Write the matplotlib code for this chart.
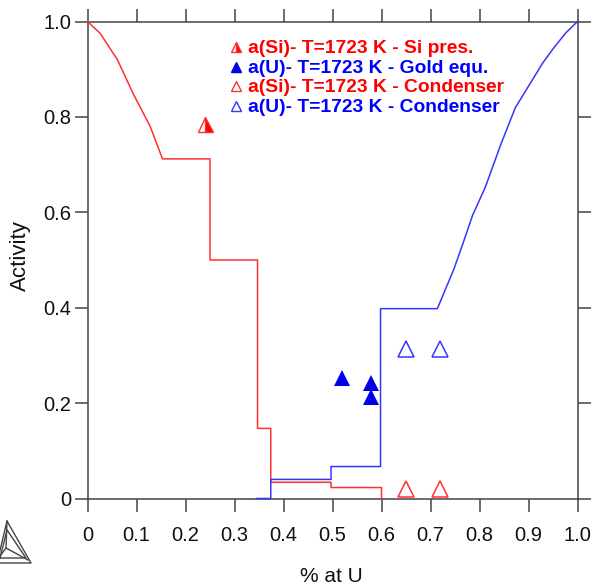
import matplotlib
matplotlib.use('Agg')
import matplotlib.pyplot as plt
from matplotlib.lines import Line2D

# stepped activity curves
si_x = [0, 0.026, 0.061, 0.094, 0.128, 0.153, 0.25, 0.25, 0.347, 0.347, 0.374, 0.374, 0.497, 0.497, 0.6, 0.6]
si_y = [1.0, 0.975, 0.92, 0.847, 0.78, 0.712, 0.712, 0.5, 0.5, 0.147, 0.147, 0.034, 0.034, 0.023, 0.023, 0]
u_x = [0.345, 0.374, 0.374, 0.497, 0.497, 0.598, 0.598, 0.714, 0.747, 0.765, 0.786, 0.812, 0.843, 0.873, 0.929, 0.951, 0.976, 1.0]
u_y = [0, 0, 0.04, 0.04, 0.067, 0.067, 0.398, 0.398, 0.479, 0.531, 0.594, 0.653, 0.741, 0.819, 0.913, 0.944, 0.976, 1.0]

# measured points
si_pres_x = [0.24]
si_pres_y = [0.785]
gold_x = [0.52, 0.578, 0.578]
gold_y = [0.253, 0.243, 0.213]
cond_x = [0.65, 0.72]
cond_si_y = [0.02, 0.02]
cond_u_y = [0.313, 0.313]

ticks_x = [0, 0.1, 0.2, 0.3, 0.4, 0.5, 0.6, 0.7, 0.8, 0.9, 1.0]
labels_x = ['0', '0.1', '0.2', '0.3', '0.4', '0.5', '0.6', '0.7', '0.8', '0.9', '1.0']
ticks_y = [0, 0.2, 0.4, 0.6, 0.8, 1.0]
labels_y = ['0', '0.2', '0.4', '0.6', '0.8', '1.0']

legend_names = ['a(Si)- T=1723 K - Si pres.', 'a(U)- T=1723 K - Gold equ.',
                'a(Si)- T=1723 K - Condenser', 'a(U)- T=1723 K - Condenser']
legend_colors = ['#ff0000', '#0000ff', '#ff0000', '#0000ff']

RED = '#ff3030'
BLUE = '#3535ff'
DARK = '#444444'
W, H = 592, 585
plt.rcParams['font.family'] = ['Liberation Sans', 'DejaVu Sans']

fig = plt.figure(figsize=(W / 100, H / 100), dpi=100)
ax = fig.add_axes([87.5 / W, 1 - 498.5 / H, 490 / W, 477 / H])
ax.set_xlim(0, 1)
ax.set_ylim(0, 1)

ax.plot(si_x, si_y, color=RED, lw=1.1, clip_on=False, zorder=3)
ax.plot(u_x, u_y, color=BLUE, lw=1.1, clip_on=False, zorder=3)

ax.plot(si_pres_x, si_pres_y, '^', ms=10.8, fillstyle='right', mfc='#ff0000', mec=RED,
        markerfacecoloralt='white', mew=1.0, ls='none', zorder=5)
ax.plot(gold_x, gold_y, '^', ms=11.5, color='#0000e8', mew=0, ls='none', zorder=4)
ax.plot(cond_x, cond_si_y, '^', ms=11, mfc='none', mec=RED, mew=1.1, ls='none', zorder=4)
ax.plot(cond_x, cond_u_y, '^', ms=11, mfc='none', mec=BLUE, mew=1.1, ls='none', zorder=4)

ax.set_xticks(ticks_x)
ax.set_xticklabels(labels_x)
ax.set_yticks(ticks_y)
ax.set_yticklabels(labels_y)
ax.tick_params(axis='both', which='both', length=9.5, width=1.1, color=DARK,
               top=True, right=True, labelsize=14.5, labelcolor='#111111')
ax.tick_params(axis='x', pad=10)
ax.tick_params(axis='y', pad=2)
for s in ax.spines.values():
    s.set_linewidth(1.1)
    s.set_color(DARK)

fig.text(331.5 / W, 1 - 577 / H, '% at U', fontsize=15, ha='center', va='center', color='#111111')
fig.text(20 / W, 1 - 256 / H, 'Activity', fontsize=16, rotation=90, ha='center', va='center', color='#111111')

# legend by hand, it sits as text inside the plot
styles = [('^', 'none', RED), ('^', '#0000e8', '#0000e8'), ('^', 'none', RED), ('^', 'none', BLUE)]
rows = [47, 67, 86, 106]
for i, (name, col, row, st) in enumerate(zip(legend_names, legend_colors, rows, styles)):
    fig.text(248 / W, 1 - (row + 1.5) / H, name, color=col, fontsize=13.9, fontweight='bold', va='center', ha='left')
    if i == 0:
        fig.add_artist(Line2D([236 / W], [1 - row / H], marker='^', ms=7.2, fillstyle='right', mfc='#ff0000',
                              markerfacecoloralt='white', mec=RED, mew=1, ls='none'))
    else:
        fig.add_artist(Line2D([236 / W], [1 - row / H], marker=st[0], ms=7.2, mfc=st[1], mec=st[2], mew=1, ls='none'))

# small triangle logo, lower left corner
logo = [([-3, 7, 31, -3], [563, 521, 563, 563]),
        ([0, 7, 26, 0], [558, 530, 558, 558]),
        ([7, 6, 0], [521, 548, 556]),
        ([6, 28], [548, 560])]
for xs, ys in logo:
    fig.add_artist(Line2D([x / W for x in xs], [1 - y / H for y in ys], color=DARK, lw=1.0))

fig.savefig('out.png', dpi=100)
